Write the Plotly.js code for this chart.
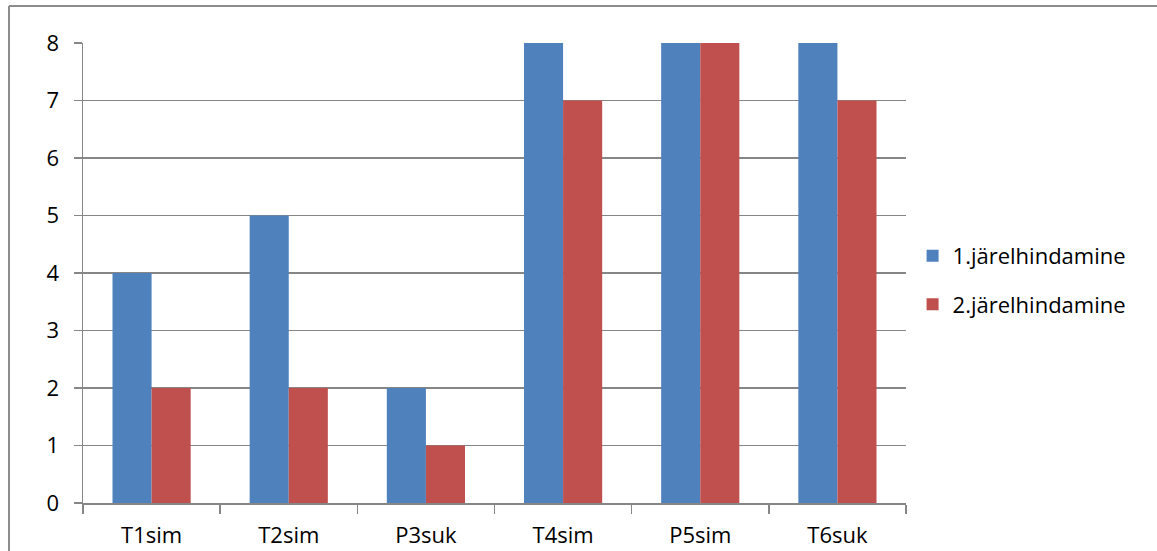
<!DOCTYPE html>
<html>
<head>
<meta charset="utf-8">
<script src="https://cdn.plot.ly/plotly-3.0.1.min.js"></script>
<style>html,body{margin:0;padding:0;background:#fff}#chart{width:1157px;height:551px}</style>
</head>
<body>
<div id="chart"></div>
<script>
const categories = ["T1sim", "T2sim", "P3suk", "T4sim", "P5sim", "T6suk"];
const series1Name = "1.järelhindamine";
const series2Name = "2.järelhindamine";
const series1 = [4, 5, 2, 8, 8, 8];
const series2 = [2, 2, 1, 7, 8, 7];
const yTicks = [0, 1, 2, 3, 4, 5, 6, 7, 8];

const font = {family: "'Open Sans', Lato, sans-serif", size: 22, color: "#000"};
const gridColor = "#868686";

const traces = [
  {type: "bar", name: series1Name, x: categories, y: series1, marker: {color: "#4F81BD"}, legendgroup: "a"},
  {type: "bar", name: series2Name, x: categories, y: series2, marker: {color: "#C0504D"}, legendgroup: "b"}
];

const layout = {
  width: 1157, height: 551,
  margin: {l: 83, r: 251, t: 43, b: 48},
  paper_bgcolor: "#fff", plot_bgcolor: "#fff",
  font: font,
  barmode: "group", bargap: 0.43, bargroupgap: 0,
  showlegend: true,
  legend: {x: 1.008, y: 0.484, xanchor: "left", yanchor: "middle", font: font, tracegroupgap: 17, itemwidth: 30},
  xaxis: {
    type: "category", tickson: "boundaries", ticks: "outside", ticklen: 9, tickcolor: gridColor, tickwidth: 1.5,
    showline: true, linecolor: gridColor, linewidth: 1.5, showgrid: false, zeroline: false,
    tickfont: font, ticklabelstandoff: 12
  },
  yaxis: {
    range: [0, 8], tickvals: yTicks, ticks: "outside", ticklen: 8, tickcolor: gridColor, tickwidth: 1.5,
    showline: true, linecolor: gridColor, linewidth: 1.5, showgrid: true, gridcolor: gridColor, gridwidth: 1.5,
    zeroline: false, tickfont: font, ticklabelstandoff: 10
  },
  shapes: [
    {type: "line", xref: "paper", yref: "paper", x0: -0.0899, x1: 1.5, y0: 1.0804, y1: 1.0804, line: {color: "#8c8c8c", width: 2}},
    {type: "line", xref: "paper", yref: "paper", x0: -0.0899, x1: -0.0899, y0: 1.0804, y1: -0.2, line: {color: "#8c8c8c", width: 2}}
  ]
};

Plotly.newPlot("chart", traces, layout, {displayModeBar: false, staticPlot: true});
</script>
</body>
</html>
